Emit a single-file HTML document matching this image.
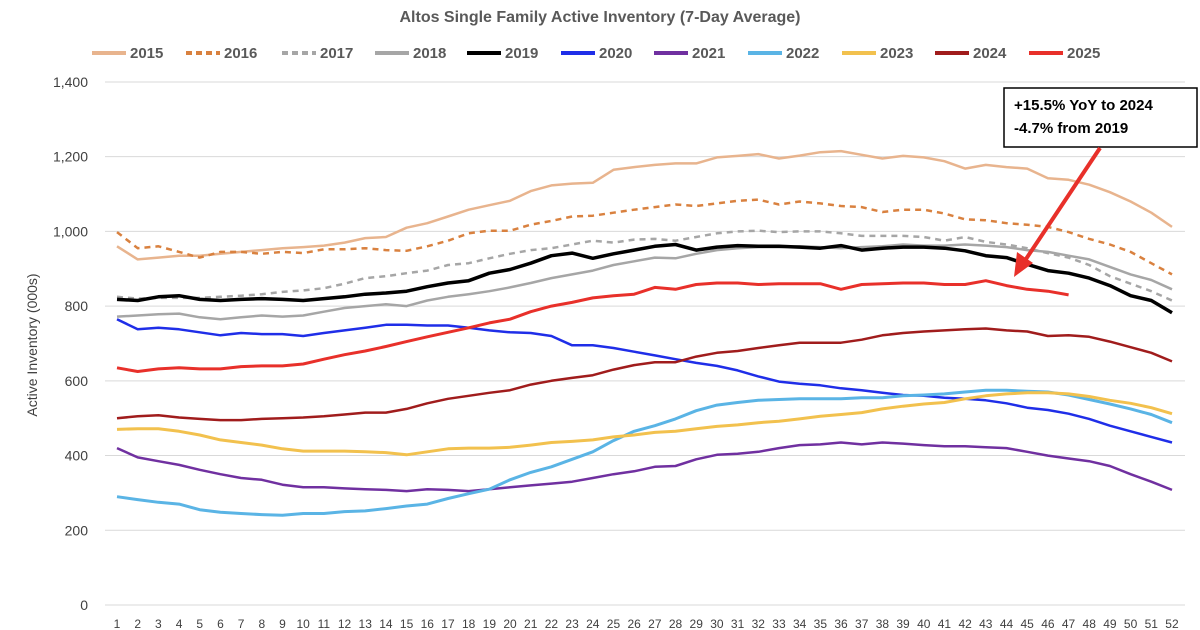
<!DOCTYPE html>
<html><head><meta charset="utf-8"><style>
body{margin:0;background:#fff;font-family:"Liberation Sans",Arial,sans-serif}
svg{display:block}
</style></head><body>
<svg id="c" width="1200" height="630" viewBox="0 0 1200 630" xmlns="http://www.w3.org/2000/svg" font-family="Liberation Sans, Arial, sans-serif">
<text x="600" y="22" text-anchor="middle" font-size="16" font-weight="bold" fill="#595959">Altos Single Family Active Inventory (7-Day Average)</text>
<text transform="translate(37,345) rotate(-90)" text-anchor="middle" font-size="14" fill="#404040">Active Inventory (000s)</text>
<g id="grid"></g><g id="series"></g><g id="legend"></g>
<rect x="1004" y="88" width="193" height="59" fill="#fff" stroke="#000" stroke-width="1.5"/>
<text x="1014" y="110" font-size="15" font-weight="bold" fill="#000">+15.5% YoY to 2024</text>
<text x="1014" y="133" font-size="15" font-weight="bold" fill="#000">-4.7% from 2019</text>
<line x1="1100" y1="148" x2="1024" y2="262" stroke="#e8302a" stroke-width="4"/>
<polygon points="1014,277 1017,252 1033,263" fill="#e8302a"/>
</svg>
<script>
const X=i=>117+(i)*20.686, Y=v=>605-v*0.3736;
const ns="http://www.w3.org/2000/svg";
function el(t,a,p,txt){const e=document.createElementNS(ns,t);for(const k in a)e.setAttribute(k,a[k]);if(txt!=null)e.textContent=txt;p.appendChild(e);return e;}
const g=document.getElementById('grid');
for(let v=0;v<=1400;v+=200){el('line',{x1:105,x2:1185,y1:Y(v),y2:Y(v),stroke:'#d9d9d9','stroke-width':1},g);
el('text',{x:88,y:Y(v)+5,'text-anchor':'end','font-size':14,fill:'#404040'},g,v.toLocaleString('en-US'));}
for(let i=0;i<52;i++)el('text',{x:X(i),y:628,'text-anchor':'middle','font-size':12,fill:'#404040'},g,String(i+1));
const S=[
['2015','#e8b48e',2.5,'',[960,925,930,935,935,940,945,950,955,958,962,970,982,985,1010,1022,1040,1058,1070,1082,1108,1123,1128,1130,1165,1172,1178,1182,1182,1198,1202,1207,1195,1203,1212,1215,1205,1195,1202,1198,1188,1168,1178,1172,1168,1142,1138,1125,1105,1080,1050,1012]],
['2016','#d9813f',2.5,'6,5',[998,955,960,945,930,945,945,940,945,942,952,952,955,950,948,960,975,995,1002,1002,1018,1028,1040,1042,1050,1058,1065,1072,1068,1075,1082,1085,1072,1080,1075,1068,1065,1052,1058,1058,1048,1032,1030,1022,1018,1012,998,980,965,945,915,885]],
['2017','#a6a6a6',2.5,'6,5',[825,820,822,822,822,825,828,832,838,842,848,860,875,880,888,895,910,915,928,940,950,955,965,975,970,978,980,975,985,995,1000,1002,998,1000,1000,995,988,988,988,985,975,985,972,965,955,942,930,910,880,860,840,815]],
['2018','#a6a6a6',2.5,'',[772,775,778,780,770,765,770,775,772,775,785,795,800,805,800,815,825,832,840,850,862,875,885,895,910,920,930,928,940,950,955,958,958,960,958,955,958,960,965,962,962,965,962,958,950,945,935,925,905,885,870,845]],
['2019','#000000',3.5,'',[818,815,825,828,818,815,818,820,818,815,820,825,832,835,840,852,862,868,888,898,915,935,942,928,940,950,960,965,950,958,962,960,960,958,955,962,950,955,958,958,955,948,935,930,912,895,888,875,855,828,815,782]],
['2020','#1f2ee8',2.5,'',[765,738,742,738,730,722,728,725,725,720,728,735,742,750,750,748,748,742,735,730,728,720,695,695,688,678,668,658,648,640,628,612,598,592,588,580,575,568,562,560,555,552,548,540,528,522,512,498,480,465,450,435]],
['2021','#7030a0',2.5,'',[420,395,385,375,362,350,340,335,322,315,315,312,310,308,305,310,308,305,310,315,320,325,330,340,350,358,370,372,390,402,405,410,420,428,430,435,430,435,432,428,425,425,422,420,410,400,392,385,372,350,330,308]],
['2022','#5ab4e5',3,'',[290,282,275,270,255,248,245,242,240,245,245,250,252,258,265,270,285,298,310,335,355,370,390,410,440,465,480,498,520,535,542,548,550,552,552,552,555,555,560,562,565,570,575,575,572,570,562,550,538,525,510,488]],
['2023','#f2c14e',3,'',[470,472,472,465,455,442,435,428,418,412,412,412,410,408,402,410,418,420,420,422,428,435,438,442,450,455,462,465,472,478,482,488,492,498,505,510,515,525,532,538,542,552,560,565,568,568,565,558,548,540,528,512]],
['2024','#a01c1c',2.5,'',[500,505,508,502,498,495,495,498,500,502,505,510,515,515,525,540,552,560,568,575,590,600,608,615,630,642,650,650,665,675,680,688,695,702,702,702,710,722,728,732,735,738,740,735,732,720,722,718,705,690,675,652]],
['2025','#e8302a',3,'',[635,625,632,635,632,632,638,640,640,645,658,670,680,692,705,718,730,742,755,765,785,800,810,822,828,832,850,845,858,862,862,858,860,860,860,845,858,860,862,862,858,858,868,855,845,840,830]]
];
const sg=document.getElementById('series'),lg=document.getElementById('legend');
const lx=[92,186,282,375,467,561,654,748,842,935,1029];
S.forEach((s,k)=>{
 const a={points:s[4].map((v,i)=>X(i).toFixed(1)+','+Y(v).toFixed(1)).join(' '),fill:'none',stroke:s[1],'stroke-width':s[2],'stroke-linejoin':'round'};
 if(s[3])a['stroke-dasharray']=s[3];
 el('polyline',a,sg);
 const b={x1:lx[k],x2:lx[k]+34,y1:53,y2:53,stroke:s[1],'stroke-width':4};if(s[3])b['stroke-dasharray']='6,4';
 el('line',b,lg);
 el('text',{x:lx[k]+38,y:58,'font-size':15,'font-weight':'bold',fill:'#595959'},lg,s[0]);
});
</script>
</body></html>
